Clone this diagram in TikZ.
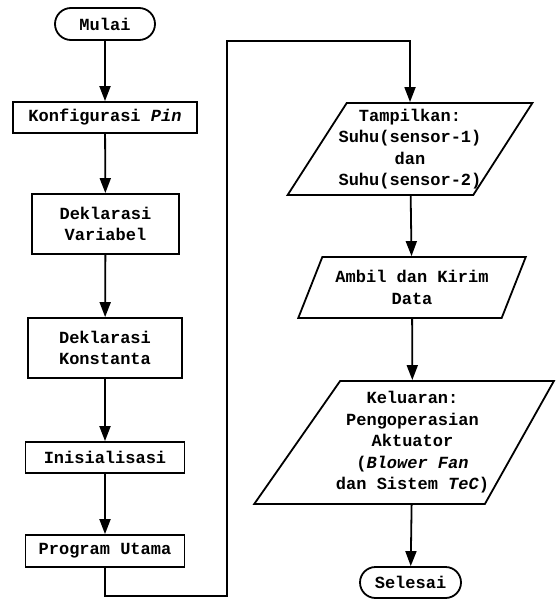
\documentclass[tikz,border=0pt]{standalone}
\usepackage{fontspec}
\setmonofont{Liberation Mono}
\usetikzlibrary{arrows.meta,shapes}
\tikzstyle{flow}=[every node/.style={draw=black,line width=1.8pt,text=black,
                font=\ttfamily\bfseries\fontsize{17}{21.5}\selectfont,
                align=center,inner sep=2pt}, x=1pt, y=-1pt, line width=1.8pt]
\tikzstyle{term}=[rounded rectangle, minimum width=104pt, minimum height=32pt]
\tikzstyle{proc}=[rectangle, minimum height=31pt]
\tikzstyle{io}=[trapezium, trapezium stretches=true, inner xsep=-15pt,
trapezium left angle=58, trapezium right angle=122]
\tikzstyle{ln}=[-{Triangle[length=15pt,width=11pt]}, draw, line width=1.8pt]

\begin{document}
\begin{tikzpicture}[flow]
\path[use as bounding box] (0,0) rectangle (558,599);
% kolom kiri
\node[term] (mulai) at (105,24) {Mulai};
\node[proc, minimum width=184pt] (pin) at (105,117.5) {Konfigurasi \textit{Pin}};
\node[proc, minimum width=147pt, minimum height=60pt] (var) at (105.5,224) {Deklarasi\\Variabel};
\node[proc, minimum width=154pt, minimum height=60pt] (kons) at (105,348) {Deklarasi\\Konstanta};
\node[proc, minimum width=159pt] (init) at (105,457.5) {Inisialisasi};
\node[proc, minimum width=159pt, minimum height=32pt] (utama) at (105,551) {Program Utama};
% kolom kanan
\node[io, minimum width=245pt, minimum height=92pt] (tampil) at (410,149)
  {Tampilkan:\\Suhu(sensor-1)\\dan\\Suhu(sensor-2)};
\node[io, trapezium left angle=66.5, trapezium right angle=113.5,
  minimum width=228pt, minimum height=61pt] (data) at (412,287.5) {Ambil dan Kirim\\Data};
\node[io, trapezium left angle=55.4, trapezium right angle=119,
  minimum width=300pt, minimum height=123pt] (keluar) at (412.5,442.5)
  {Keluaran:\\Pengoperasian\\Aktuator\\(\textit{Blower Fan}\\dan Sistem \textit{TeC})};
\node[term, minimum width=105pt, minimum height=31pt] (selesai) at (410.5,582.5) {Selesai};
\coordinate (c1) at (227,596);
\coordinate (c2) at (227,41);
\path[ln]
  (mulai) edge (pin)
  (pin) edge (var)
  (var) edge (kons)
  (kons) edge (init)
  (init) edge (utama)
  (tampil) edge (data)
  (data) edge (keluar)
  (keluar) edge (selesai);
\draw[ln] (utama.south) |- (c1) -- (c2) -| (tampil.north);
\end{tikzpicture}
\end{document}
